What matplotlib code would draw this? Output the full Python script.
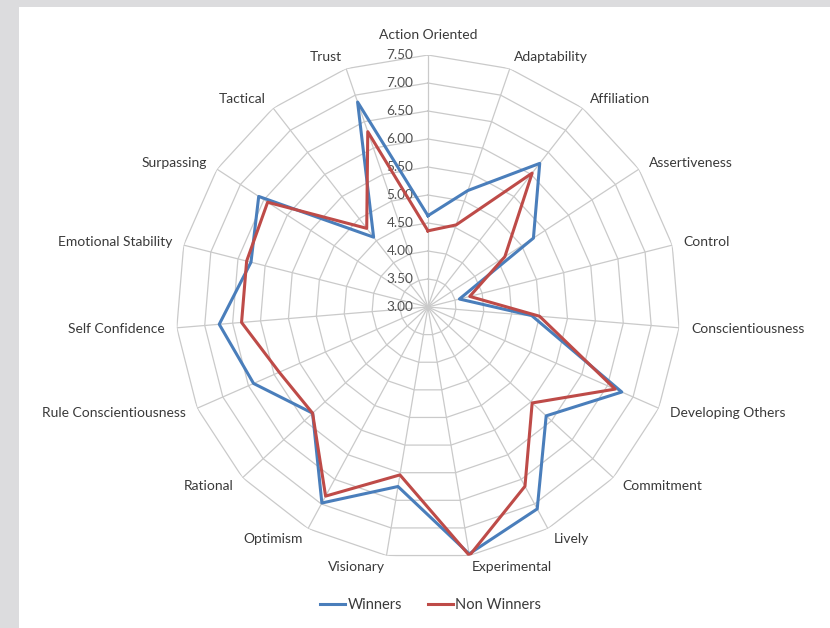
'''Radar chart: winners vs non winners across competency scales.'''
import numpy as np
from matplotlib import pyplot as plt
from matplotlib.patches import Rectangle

categories = [
    'Action Oriented', 'Adaptability', 'Affiliation', 'Assertiveness',
    'Control', 'Conscientiousness', 'Developing Others', 'Commitment',
    'Lively', 'Experimental', 'Visionary', 'Optimism', 'Rational',
    'Rule Conscientiousness', 'Self Confidence', 'Emotional Stability',
    'Surpassing', 'Tactical', 'Trust',
]
winners = [4.63, 5.20, 6.25, 5.25, 3.58, 4.86, 6.78, 5.87, 7.10, 7.47,
           6.25, 6.98, 5.80, 6.40, 6.74, 6.26, 6.61, 4.58, 6.87]
non_winners = [4.36, 4.55, 6.03, 4.64, 3.77, 5.00, 6.65, 5.53, 6.64, 7.50,
               6.04, 6.84, 5.80, 5.90, 6.34, 6.34, 6.42, 4.78, 6.31]
r_ticks = [3.0, 3.5, 4.0, 4.5, 5.0, 5.5, 6.0, 6.5, 7.0, 7.5]

plt.rcParams['font.family'] = ['Lato', 'DejaVu Sans']

fig = plt.figure(figsize=(8.3, 6.28), dpi=100, facecolor='#dcdcde')
# white card on the gray page
fig.patches.append(Rectangle((19 / 830, 0), 1, 1 - 7 / 628, transform=fig.transFigure,
                             facecolor='white', edgecolor='none', zorder=-10))

ax = fig.add_axes([0.2120, 0.1099, 0.6072, 0.8025], projection='polar')
ax.set_facecolor('none')
ax.set_theta_zero_location('N')
ax.set_theta_direction(-1)
ax.set_ylim(r_ticks[0], r_ticks[-1])
ax.grid(False)
ax.spines['polar'].set_visible(False)
ax.set_xticks([])
ax.set_yticks([])

n = len(categories)
angles = np.linspace(0, 2 * np.pi, n, endpoint=False)
closed = np.append(angles, angles[0])

# polygon rings and spokes
grid_col = '#cacaca'
for level in r_ticks[1:]:
    ax.plot(closed, [level] * (n + 1), color=grid_col, lw=0.9, zorder=1)
for a in angles:
    ax.plot([a, a], [r_ticks[0], r_ticks[-1]], color=grid_col, lw=0.9, zorder=1)

# radial value labels
for level in r_ticks:
    ax.annotate(f'{level:.2f}', xy=(0, level), xytext=(-10.5, 0),
                textcoords='offset points', ha='right', va='center',
                fontsize=9.8, color='#505050', zorder=2)

# series
ax.plot(closed, winners + winners[:1], color='#4a7ebb', lw=2.2, label='Winners', zorder=3)
ax.plot(closed, non_winners + non_winners[:1], color='#be4b48', lw=2.2,
        label='Non Winners', zorder=4)

# category labels
for a, cat in zip(angles, categories):
    s, c = np.sin(a), np.cos(a)
    if abs(s) < 0.01:
        ha = 'center'
    else:
        ha = 'left' if s > 0 else 'right'
    va = 'bottom' if c > 0.99 else 'center'
    d = 10 if c > 0.99 else 8.6
    ax.annotate(cat, xy=(a, r_ticks[-1]), xytext=(d * s, d * c),
                textcoords='offset points', ha=ha, va=va,
                fontsize=10, color='#3a3a3a', annotation_clip=False)

fig.legend(loc='center', bbox_to_anchor=(0.519, 0.037), ncol=2, frameon=False,
           fontsize=10.5, handlelength=1.7, handletextpad=0.15, columnspacing=1.8,
           labelcolor='#3a3a3a')

fig.savefig('out.png', dpi=100, facecolor=fig.get_facecolor())
